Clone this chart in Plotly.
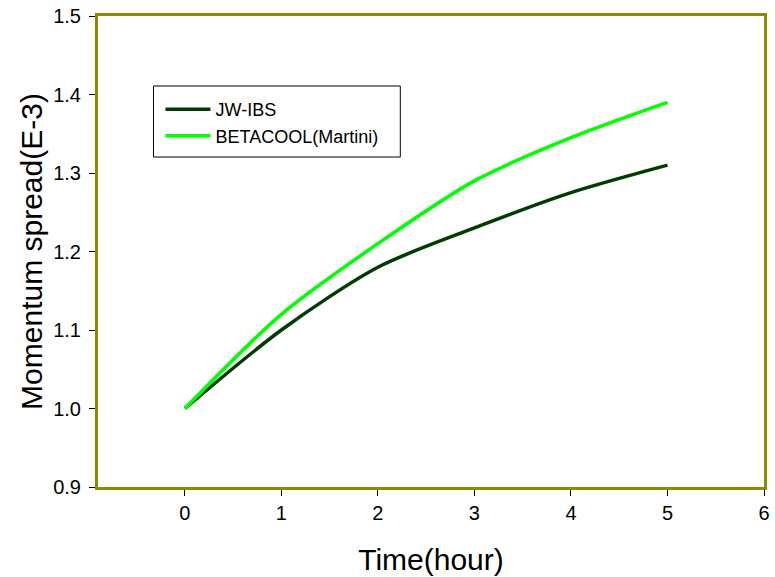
import plotly.graph_objects as go

time_h = [0, 1, 2, 3, 4, 5]
jw_ibs = [1.0, 1.10, 1.18, 1.23, 1.275, 1.31]
betacool = [1.0, 1.12, 1.21, 1.29, 1.345, 1.39]

x_ticks = [0, 1, 2, 3, 4, 5, 6]
y_ticks = [0.9, 1.0, 1.1, 1.2, 1.3, 1.4, 1.5]

FONT = "Liberation Sans, Arial, sans-serif"
FRAME = "#8c8c00"

fig = go.Figure()
fig.add_trace(go.Scatter(x=time_h, y=jw_ibs, mode="lines", name="JW-IBS",
                         line=dict(color="#003c00", width=3.5, shape="spline", smoothing=0.8)))
fig.add_trace(go.Scatter(x=time_h, y=betacool, mode="lines", name="BETACOOL(Martini)",
                         line=dict(color="#00ff00", width=3.5, shape="spline", smoothing=0.8)))

# legend frame
fig.add_shape(type="rect", xref="paper", yref="paper",
              x0=0.0833, x1=0.4539, y0=0.7006, y1=0.8514,
              line=dict(color="black", width=1), fillcolor="white", layer="below")

fig.update_layout(
    width=775, height=577,
    margin=dict(l=98, r=5, t=16, b=90),
    paper_bgcolor="white", plot_bgcolor="white",
    font=dict(family=FONT, color="black", size=18),
    showlegend=True,
    legend=dict(x=0.0938, y=0.8405, xanchor="left", yanchor="top",
                borderwidth=0, bgcolor="rgba(0,0,0,0)",
                font=dict(size=18, family=FONT), tracegroupgap=0,
                itemwidth=45),
)
fig.update_xaxes(
    range=[-0.9, 6], tickvals=x_ticks, ticktext=[str(v) for v in x_ticks],
    showgrid=False, zeroline=False,
    showline=True, linecolor=FRAME, linewidth=3, mirror=True,
    ticks="outside", ticklen=6, tickcolor="black", tickwidth=1,
    tickfont=dict(size=20, family=FONT, color="black"),
    title=dict(text="Time(hour)", font=dict(size=30), standoff=26),
)
fig.update_yaxes(
    range=[0.9, 1.5], tickvals=y_ticks, ticktext=[f"{v:.1f}" for v in y_ticks],
    showgrid=False, zeroline=False,
    showline=True, linecolor=FRAME, linewidth=3, mirror=True,
    ticks="outside", ticklen=6, tickcolor="black", tickwidth=1,
    tickfont=dict(size=20, family=FONT, color="black"), ticklabelstandoff=4,
    title=dict(text="Momentum spread(E-3)", font=dict(size=30), standoff=2),
)

fig.write_html("out.html")
